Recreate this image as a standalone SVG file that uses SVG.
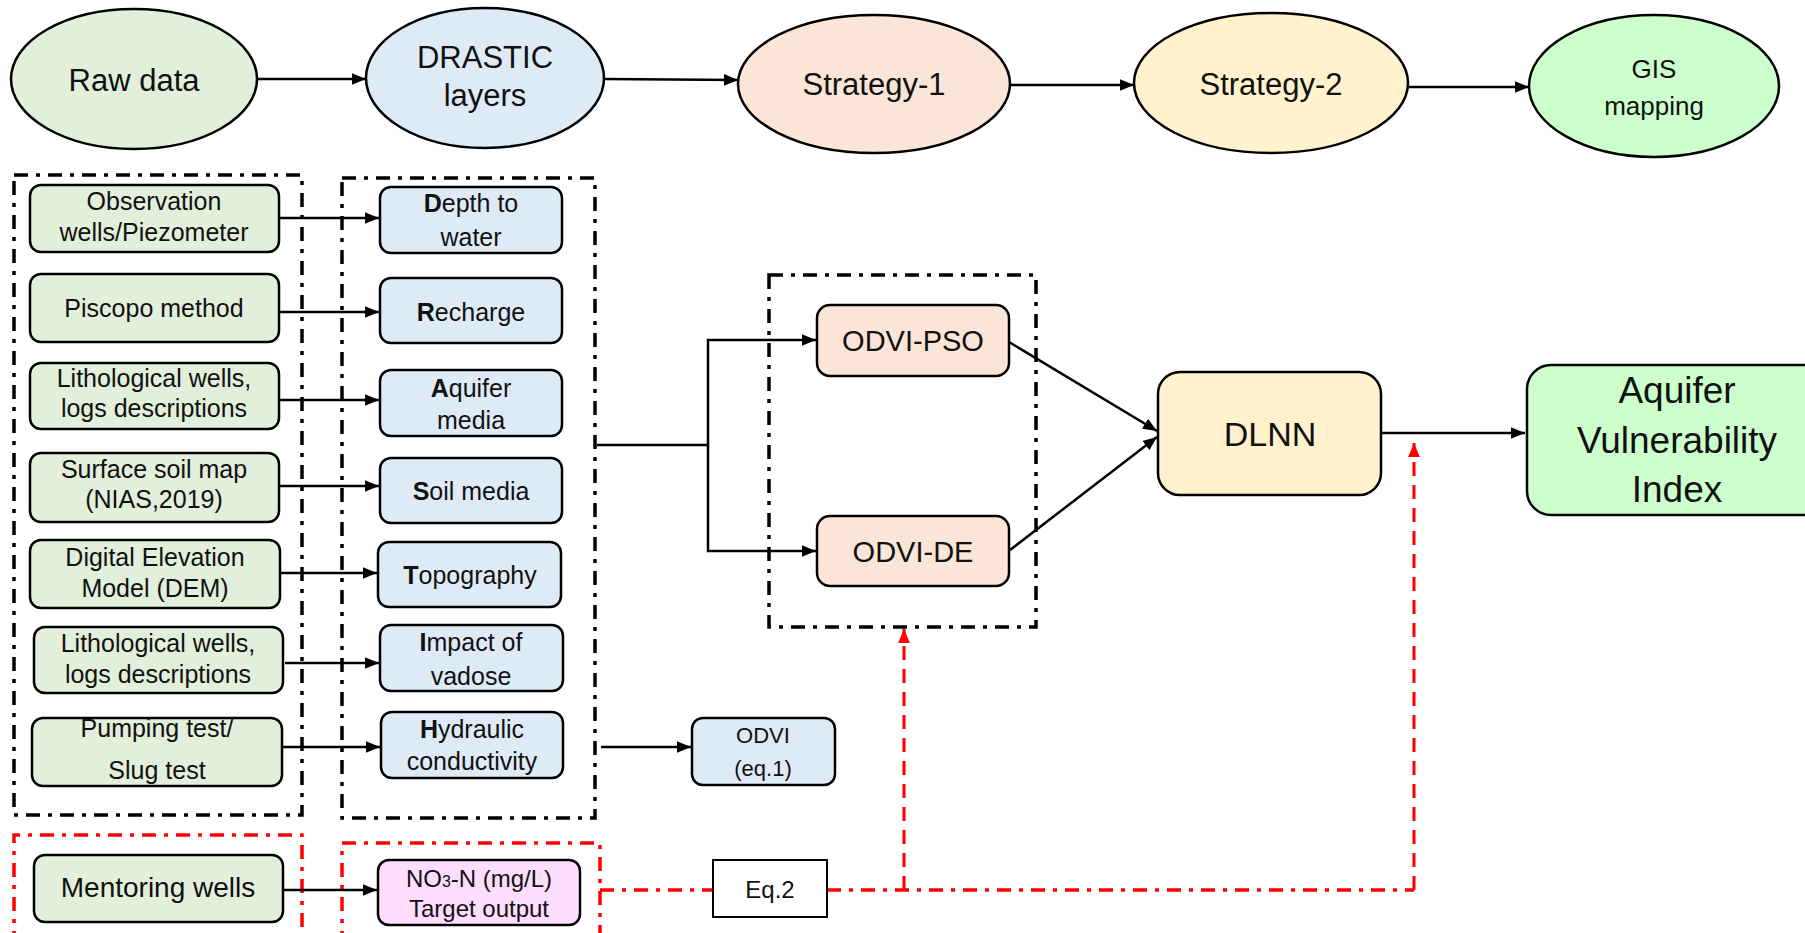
<svg xmlns="http://www.w3.org/2000/svg" width="1805" height="933" viewBox="0 0 1805 933">
<defs>
<marker id="ah" viewBox="0 0 12 10" refX="12" refY="5" markerWidth="14" markerHeight="12" markerUnits="userSpaceOnUse" orient="auto"><path d="M0,0 L12,5 L0,10 z" fill="#000"/></marker>
<marker id="ahr" viewBox="0 0 12 10" refX="12" refY="5" markerWidth="14" markerHeight="12" markerUnits="userSpaceOnUse" orient="auto"><path d="M0,0 L12,5 L0,10 z" fill="#ff0000"/></marker>
<style>
text{font-family:"Liberation Sans",Arial,sans-serif;fill:#111;text-anchor:middle}
.ell{stroke:#000;stroke-width:2.5}
.box{stroke:#000;stroke-width:2.5}
.g{fill:#E2EFDA}.b{fill:#DEEBF7}.o{fill:#FBE5D6}.y{fill:#FFF2CC}.m{fill:#CCFFCC}.p{fill:#FFDDFF}
.t25{font-size:25px}.t31{font-size:31px}
.dd{fill:none;stroke:#000;stroke-width:3.5;stroke-dasharray:14 8 4 8}
.rd{fill:none;stroke:#ff0000;stroke-width:3.5;stroke-dasharray:14 8 4 8}
.con{fill:none;stroke:#000;stroke-width:2.5}
.rdash{fill:none;stroke:#ff0000;stroke-width:3;stroke-dasharray:14 9}
</style>
</defs>
<rect width="1805" height="933" fill="#fff"/>

<g id="groups">
<rect class="dd" x="14" y="175" width="288" height="640"/>
<rect class="dd" x="342" y="178" width="253" height="640"/>
<rect class="dd" x="769" y="275" width="267" height="352"/>
<path class="rd" d="M14,945 V835 H302 V945"/>
<path class="rd" d="M342,945 V843 H600 V945"/>
</g>

<g id="connectors">
<line class="con" x1="258" y1="79" x2="366" y2="79" marker-end="url(#ah)"/>
<line class="con" x1="604" y1="79" x2="738" y2="80" marker-end="url(#ah)"/>
<line class="con" x1="1010" y1="85" x2="1134" y2="85" marker-end="url(#ah)"/>
<line class="con" x1="1408" y1="87" x2="1529" y2="87" marker-end="url(#ah)"/>
<line class="con" x1="279" y1="218" x2="379" y2="218" marker-end="url(#ah)"/>
<line class="con" x1="279" y1="312" x2="379" y2="312" marker-end="url(#ah)"/>
<line class="con" x1="279" y1="400" x2="379" y2="400" marker-end="url(#ah)"/>
<line class="con" x1="279" y1="486" x2="379" y2="486" marker-end="url(#ah)"/>
<line class="con" x1="280" y1="573" x2="377" y2="573" marker-end="url(#ah)"/>
<line class="con" x1="285" y1="663" x2="379" y2="663" marker-end="url(#ah)"/>
<line class="con" x1="282" y1="747" x2="380" y2="747" marker-end="url(#ah)"/>
<line class="con" x1="283" y1="890" x2="377" y2="890" marker-end="url(#ah)"/>
<path class="con" d="M597,445 H708"/>
<path class="con" d="M708,445 V340 H816" marker-end="url(#ah)"/>
<path class="con" d="M708,445 V551 H816" marker-end="url(#ah)"/>
<line class="con" x1="601" y1="747" x2="691" y2="747" marker-end="url(#ah)"/>
<line class="con" x1="1009" y1="342" x2="1157" y2="431" marker-end="url(#ah)"/>
<line class="con" x1="1010" y1="550" x2="1157" y2="437" marker-end="url(#ah)"/>
<line class="con" x1="1381" y1="433" x2="1525" y2="433" marker-end="url(#ah)"/>
<path class="rd" d="M600,890 H713"/>
<path class="rd" d="M827,890 H1414"/>
<line class="rdash" x1="904" y1="890" x2="904" y2="629" marker-end="url(#ahr)"/>
<line class="rdash" x1="1414" y1="890" x2="1414" y2="443" marker-end="url(#ahr)"/>
</g>

<g id="raw-data"><ellipse class="ell g" cx="134" cy="79" rx="123" ry="70"/><text class="t31" x="134" y="91">Raw data</text></g>
<g id="drastic-layers"><ellipse class="ell b" cx="485" cy="78" rx="119" ry="70"/><text class="t31" x="485" y="68">DRASTIC</text><text class="t31" x="485" y="106">layers</text></g>
<g id="strategy-1"><ellipse class="ell o" cx="874" cy="84" rx="136" ry="69"/><text class="t31" x="874" y="95">Strategy-1</text></g>
<g id="strategy-2"><ellipse class="ell y" cx="1271" cy="83" rx="137" ry="70"/><text class="t31" x="1271" y="95">Strategy-2</text></g>
<g id="gis-mapping"><ellipse class="ell m" cx="1654" cy="86" rx="125" ry="71"/><text x="1654" y="78" font-size="26">GIS</text><text x="1654" y="115" font-size="26">mapping</text></g>

<g id="obs-wells"><rect class="box g" x="30" y="185" width="249" height="67" rx="11"/><text class="t25" x="154" y="210">Observation</text><text class="t25" x="154" y="241">wells/Piezometer</text></g>
<g id="piscopo"><rect class="box g" x="30" y="274" width="249" height="68" rx="11"/><text class="t25" x="154" y="317">Piscopo method</text></g>
<g id="litho-1"><rect class="box g" x="30" y="363" width="249" height="66" rx="11"/><text class="t25" x="154" y="387">Lithological wells,</text><text class="t25" x="154" y="417">logs descriptions</text></g>
<g id="soil-map"><rect class="box g" x="30" y="453" width="249" height="69" rx="11"/><text class="t25" x="154" y="478">Surface soil map</text><text class="t25" x="154" y="508">(NIAS,2019)</text></g>
<g id="dem"><rect class="box g" x="30" y="540" width="250" height="68" rx="11"/><text class="t25" x="155" y="566">Digital Elevation</text><text class="t25" x="155" y="597">Model (DEM)</text></g>
<g id="litho-2"><rect class="box g" x="34" y="627" width="249" height="66" rx="11"/><text class="t25" x="158" y="652">Lithological wells,</text><text class="t25" x="158" y="683">logs descriptions</text></g>
<g id="pumping"><rect class="box g" x="32" y="718" width="250" height="68" rx="11"/><text class="t25" x="157" y="737">Pumping test/</text><text class="t25" x="157" y="779">Slug test</text></g>
<g id="mentoring"><rect class="box g" x="34" y="855" width="249" height="67" rx="11"/><text x="158" y="897" font-size="28">Mentoring wells</text></g>

<g id="depth"><rect class="box b" x="380" y="187" width="182" height="66" rx="11"/><text class="t25" x="471" y="212"><tspan font-weight="bold">D</tspan>epth to</text><text class="t25" x="471" y="246">water</text></g>
<g id="recharge"><rect class="box b" x="380" y="278" width="182" height="65" rx="11"/><text class="t25" x="471" y="321"><tspan font-weight="bold">R</tspan>echarge</text></g>
<g id="aquifer-media"><rect class="box b" x="380" y="370" width="182" height="66" rx="11"/><text class="t25" x="471" y="397"><tspan font-weight="bold">A</tspan>quifer</text><text class="t25" x="471" y="429">media</text></g>
<g id="soil-media"><rect class="box b" x="380" y="458" width="182" height="65" rx="11"/><text class="t25" x="471" y="500"><tspan font-weight="bold">S</tspan>oil media</text></g>
<g id="topography"><rect class="box b" x="378" y="542" width="183" height="65" rx="11"/><text class="t25" x="470" y="584"><tspan font-weight="bold">T</tspan>opography</text></g>
<g id="impact"><rect class="box b" x="380" y="625" width="183" height="66" rx="11"/><text class="t25" x="471" y="651"><tspan font-weight="bold">I</tspan>mpact of</text><text class="t25" x="471" y="685">vadose</text></g>
<g id="hydraulic"><rect class="box b" x="381" y="712" width="182" height="66" rx="11"/><text class="t25" x="472" y="738"><tspan font-weight="bold">H</tspan>ydraulic</text><text class="t25" x="472" y="770">conductivity</text></g>
<g id="no3"><rect class="box p" x="378" y="860" width="202" height="65" rx="11"/><text x="479" y="887" font-size="24">NO<tspan font-size="16">3</tspan>-N (mg/L)</text><text x="479" y="917" font-size="24">Target output</text></g>

<g id="odvi-eq1"><rect class="box b" x="692" y="718" width="143" height="67" rx="11"/><text x="763" y="743" font-size="22">ODVI</text><text x="763" y="776" font-size="22">(eq.1)</text></g>
<g id="odvi-pso"><rect class="box o" x="817" y="305" width="192" height="71" rx="13"/><text x="913" y="351" font-size="29">ODVI-PSO</text></g>
<g id="odvi-de"><rect class="box o" x="817" y="516" width="192" height="70" rx="13"/><text x="913" y="562" font-size="29">ODVI-DE</text></g>
<g id="dlnn"><rect class="box y" x="1158" y="372" width="223" height="123" rx="22"/><text x="1270" y="446" font-size="34">DLNN</text></g>
<g id="avi"><rect class="box m" x="1527" y="365" width="310" height="150" rx="24"/><text x="1677" y="403" font-size="37">Aquifer</text><text x="1677" y="453" font-size="37">Vulnerability</text><text x="1677" y="502" font-size="37">Index</text></g>
<g id="eq2"><rect x="713" y="860" width="114" height="57" fill="#fff" stroke="#000" stroke-width="2"/><text x="770" y="898" font-size="24">Eq.2</text></g>
</svg>
